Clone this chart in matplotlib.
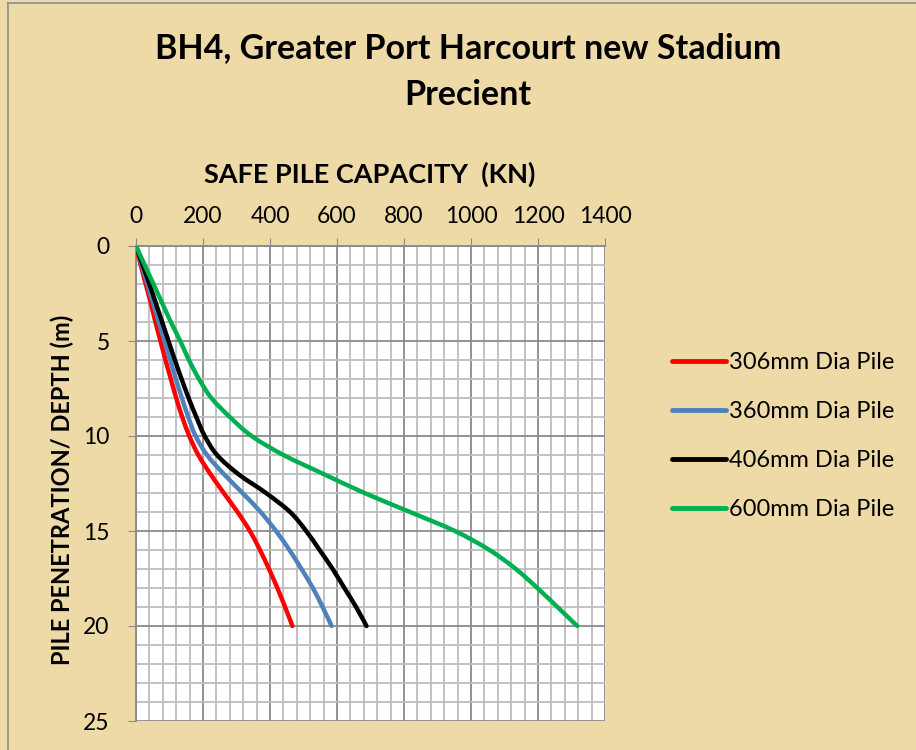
import matplotlib.pyplot as plt
import numpy as np
from matplotlib.lines import Line2D
from matplotlib.patches import PathPatch
from matplotlib.path import Path
from matplotlib.ticker import MultipleLocator


# depth below ground (m)
depth = [0, 1, 2, 3, 4, 5, 6, 7, 8, 9, 10,
         11, 12, 13, 14, 15, 16, 17, 18, 19, 20]

# safe pile capacity (kN) per pile diameter
pile_306 = [0, 14, 29, 44, 58, 73, 88, 104, 120, 138, 159,
            186, 222, 262, 303, 340, 370, 397, 422, 445, 467]
pile_360 = [0, 17, 34, 51, 68, 85, 102, 119, 137, 156, 178,
            212, 262, 318, 372, 418, 458, 494, 528, 557, 584]
pile_406 = [0, 20, 40, 59, 78, 97, 116, 136, 157, 180, 205,
            242, 305, 388, 460, 508, 548, 587, 622, 657, 688]
pile_600 = [0, 26, 52, 78, 104, 132, 158, 188, 225, 280, 345,
            440, 560, 682, 818, 952, 1055, 1134, 1198, 1258, 1317]

series_names = ["306mm Dia Pile", "360mm Dia Pile", "406mm Dia Pile", "600mm Dia Pile"]
series_colors = ["#FF0000", "#4F81BD", "#000000", "#00B050"]

TITLE_1 = "BH4, Greater Port Harcourt new Stadium"
TITLE_2 = "Precient"
X_LABEL = "SAFE PILE CAPACITY  (KN)"
Y_LABEL = "PILE PENETRATION/ DEPTH (m)"

PAPER = "#EEDAA6"
GRID_MAJOR = "#8A8A8A"
GRID_MINOR = "#BDBDBD"
FONT = "Lato"
W, H = 916, 750


def smooth_path(xs, ys):
    # Excel-style smoothed line: Catmull-Rom segments as cubic Beziers
    pts = np.column_stack([xs, ys]).astype(float)
    verts = [pts[0]]
    codes = [Path.MOVETO]
    n = len(pts)
    for i in range(n - 1):
        p0 = pts[i - 1] if i > 0 else pts[i]
        p1 = pts[i]
        p2 = pts[i + 1]
        p3 = pts[i + 2] if i + 2 < n else pts[i + 1]
        verts += [p1 + (p2 - p0) / 6, p2 - (p3 - p1) / 6, p2]
        codes += [Path.CURVE4] * 3
    return Path(verts, codes)


def main():
    fig = plt.figure(figsize=(W / 100, H / 100), dpi=100)
    fig.patch.set_facecolor(PAPER)

    # chart border (left and top visible)
    fig.add_artist(Line2D([8 / W, 8 / W], [0, 1 - 3 / H],
                          transform=fig.transFigure, color="#8C8C8C", lw=1.2))
    fig.add_artist(Line2D([8 / W, 1], [1 - 3 / H, 1 - 3 / H],
                          transform=fig.transFigure, color="#8C8C8C", lw=1.2))

    ax = fig.add_axes([136 / W, 1 - 721 / H, (605 - 136) / W, (721 - 246) / H])
    ax.set_facecolor("white")

    handles = []
    for values, name, color in zip([pile_306, pile_360, pile_406, pile_600],
                                   series_names, series_colors):
        patch = PathPatch(smooth_path(values, depth), facecolor="none",
                          edgecolor=color, lw=3.2, capstyle="round",
                          joinstyle="round", zorder=3)
        ax.add_patch(patch)
        handles.append(Line2D([], [], color=color, lw=3.5,
                              solid_capstyle="round", label=name))

    ax.set_xlim(0, 1400)
    ax.set_ylim(25, 0)
    ax.xaxis.set_major_locator(MultipleLocator(200))
    ax.xaxis.set_minor_locator(MultipleLocator(40))
    ax.yaxis.set_major_locator(MultipleLocator(5))
    ax.yaxis.set_minor_locator(MultipleLocator(1))

    ax.grid(which="major", color=GRID_MAJOR, lw=1.3)
    ax.grid(which="minor", color=GRID_MINOR, lw=1.3)
    ax.set_axisbelow(True)

    ax.xaxis.tick_top()
    ax.tick_params(axis="both", which="major", direction="out", length=6,
                   color=GRID_MAJOR, labelsize=16.5)
    ax.tick_params(axis="x", which="major", pad=7.5)
    ax.tick_params(axis="y", which="major", pad=13)
    ax.tick_params(axis="both", which="minor", length=0)
    for lbl in ax.get_xticklabels() + ax.get_yticklabels():
        lbl.set_fontfamily(FONT)

    for side in ["right", "bottom"]:
        ax.spines[side].set_visible(False)
    for side in ["left", "top"]:
        ax.spines[side].set_color(GRID_MAJOR)
        ax.spines[side].set_linewidth(1.3)

    ax.set_ylabel(Y_LABEL, fontsize=17, fontweight="bold", family=FONT)
    ax.yaxis.set_label_coords(-0.133, 0.486)

    fig.text(370 / W, 1 - 174 / H, X_LABEL, ha="center", va="center",
             fontsize=19.5, fontweight="bold", family=FONT)
    fig.text(468 / W, 1 - 48 / H, TITLE_1, ha="center", va="center",
             fontsize=24.5, fontweight="bold", family=FONT)
    fig.text(468 / W, 1 - 95 / H, TITLE_2, ha="center", va="center",
             fontsize=24.5, fontweight="bold", family=FONT)

    fig.legend(handles=handles, loc="upper left",
               bbox_to_anchor=(672 / W, 1 - 352 / H), frameon=False,
               prop={"family": FONT, "size": 17}, borderpad=0, borderaxespad=0,
               handlelength=2.3, handletextpad=0.12, labelspacing=1.19)

    fig.savefig("out.png", dpi=100, facecolor=fig.get_facecolor())


if __name__ == "__main__":
    main()
